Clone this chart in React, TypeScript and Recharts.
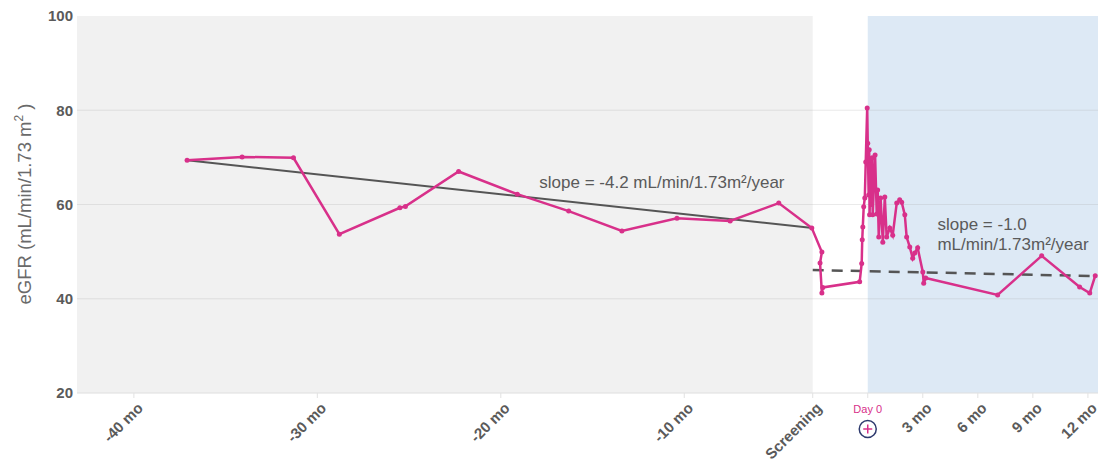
import {
  Line,
  LineChart,
  ReferenceArea,
  ReferenceDot,
  ReferenceLine,
  XAxis,
  YAxis,
} from "recharts";

// x = months relative to Day 0, y = eGFR
const historyMonths = [-37.1, -34.1, -31.3, -28.8, -25.5, -25.2, -22.3, -19.1, -16.3, -13.4, -10.4, -7.5, -4.85, -3.05];
const historyEgfr = [69.4, 70.1, 69.9, 53.7, 59.3, 59.6, 67.0, 62.2, 58.6, 54.4, 57.1, 56.5, 60.3, 55.0];

const screeningMonths = [-2.5, -2.6, -2.5, -2.45, -0.44];
const screeningEgfr = [49.9, 47.6, 41.2, 42.4, 43.6];

const treatmentMonths = [
  -0.33, -0.3, -0.27, -0.22, -0.16, -0.11, -0.03, 0.0, 0.05, 0.08, 0.1, 0.16, 0.2, 0.24, 0.27,
  0.4, 0.49, 0.54, 0.6, 0.7, 0.82, 0.93, 1.03, 1.2, 1.36, 1.58, 1.74, 1.85, 2.02, 2.12, 2.29,
  2.45, 2.56, 2.72, 3.0, 3.05, 3.16, 7.08, 9.48, 11.55, 12.1, 12.4,
];
const treatmentEgfr = [
  47.5, 52.5, 55.2, 59.5, 61.4, 69.0, 80.5, 73.0, 62.0, 71.6, 57.8, 69.4, 60.0, 69.9, 57.8,
  70.5, 58.0, 63.1, 53.1, 61.4, 52.0, 61.6, 53.1, 55.0, 53.5, 60.3, 61.0, 60.5, 57.8, 53.1, 51.0,
  48.6, 49.7, 50.8, 45.7, 43.3, 44.4, 40.8, 49.1, 42.5, 41.2, 44.9,
];

const trendBeforeMonths = [-37.1, -3.0];
const trendBeforeEgfr = [69.4, 55.0];
const trendAfterMonths = [-3.0, 12.5];
const trendAfterEgfr = [46.1, 44.8];

const xTicks = [-40, -30, -20, -10, -3, 0, 3, 6, 9, 12];
const xTickLabels = ["-40 mo", "-30 mo", "-20 mo", "-10 mo", "Screening", "Day 0", "3 mo", "6 mo", "9 mo", "12 mo"];
const yTicks = [20, 40, 60, 80, 100];
const gridValues = [40, 60, 80];

const slopeBeforeText = ["slope = -4.2 mL/min/1.73m²/year"];
const slopeAfterText = ["slope = -1.0", "mL/min/1.73m²/year"];

const toPoints = (months: number[], values: number[]) =>
  months.map((m, i) => ({ month: m, egfr: values[i] }));

const patientData = [
  ...toPoints(historyMonths, historyEgfr),
  ...toPoints(screeningMonths, screeningEgfr),
  ...toPoints(treatmentMonths, treatmentEgfr),
];
const trendBefore = toPoints(trendBeforeMonths, trendBeforeEgfr);
const trendAfter = toPoints(trendAfterMonths, trendAfterEgfr);

const PINK = "#d8308a";
const TEXT = "#5a5a5a";
const FONT = "'Liberation Sans', Arial, sans-serif";

function XTick({ x, y, payload }: any) {
  const i = xTicks.indexOf(payload.value);
  const label = xTickLabels[i];
  if (payload.value === 0) {
    return (
      <g>
        <text x={x} y={y + 15} textAnchor="middle" fill={PINK} fontSize={11} fontFamily={FONT}>
          {label}
        </text>
        <circle cx={x} cy={y + 31} r={8.5} fill="#fff" stroke="#2e3a6e" strokeWidth={1.5} />
        <path d={`M${x - 4.5},${y + 31}H${x + 4.5}M${x},${y + 26.5}V${y + 35.5}`} stroke={PINK} strokeWidth={1.5} />
      </g>
    );
  }
  const ax = x + 10;
  const ay = y + 11;
  return (
    <text
      x={ax}
      y={ay}
      transform={`rotate(-45, ${ax}, ${ay})`}
      textAnchor="end"
      fill={TEXT}
      fontSize={15}
      fontWeight="bold"
      fontFamily={FONT}
    >
      {label}
    </text>
  );
}

function YLabel() {
  return (
    <text
      x={31}
      y={204}
      transform="rotate(-90, 31, 204)"
      textAnchor="middle"
      fill="#6a6a6a"
      fontSize={18.5}
      fontFamily={FONT}
    >
      eGFR (mL/min/1.73 m
      <tspan dy={-8} fontSize={12}>2</tspan>
      <tspan dy={8}> )</tspan>
    </text>
  );
}

function NoteLabel(lines: string[]) {
  return ({ viewBox }: any) => (
    <text x={viewBox.x} y={viewBox.y} fill={TEXT} fontSize={17} fontFamily={FONT}>
      {lines.map((t, i) => (
        <tspan key={i} x={viewBox.x} dy={i === 0 ? 0 : 20}>
          {t}
        </tspan>
      ))}
    </text>
  );
}

export default function App() {
  return (
    <div style={{ position: "absolute", left: 0, top: 0, background: "#fff" }}>
      <LineChart width={1099} height={466} margin={{ top: 16, right: 1, bottom: 0, left: 0 }}>
        <ReferenceArea x1={-43.1} x2={-3} y1={20} y2={100} fill="#f1f1f1" fillOpacity={1} stroke="none" ifOverflow="hidden" />
        <ReferenceArea x1={0} x2={12.55} y1={20} y2={100} fill="#dde9f5" fillOpacity={1} stroke="none" ifOverflow="hidden" />
        {gridValues.map((v) => (
          <ReferenceLine key={v} y={v} stroke="rgba(170,170,170,0.25)" strokeWidth={1} />
        ))}
        <XAxis
          dataKey="month"
          type="number"
          domain={[-43.1, 12.55]}
          allowDataOverflow
          ticks={xTicks}
          interval={0}
          height={73}
          tick={<XTick />}
          tickSize={5}
          tickMargin={0}
          axisLine={{ stroke: "#dedede" }}
          tickLine={{ stroke: "#e2e2e2" }}
        />
        <YAxis
          type="number"
          domain={[20, 100]}
          ticks={yTicks}
          width={77}
          axisLine={false}
          tickLine={false}
          tickSize={4}
          tickMargin={0}
          tick={{ fill: TEXT, fontSize: 15, fontWeight: "bold", fontFamily: FONT }}
          label={{ content: () => <YLabel /> }}
        />
        <Line
          data={trendBefore}
          dataKey="egfr"
          stroke="#555"
          strokeWidth={2}
          dot={false}
          isAnimationActive={false}
        />
        <Line
          data={trendAfter}
          dataKey="egfr"
          stroke="#555"
          strokeWidth={2.5}
          strokeDasharray="11 8"
          dot={false}
          isAnimationActive={false}
        />
        <Line
          data={patientData}
          dataKey="egfr"
          stroke={PINK}
          strokeWidth={2.5}
          dot={{ r: 2.5, fill: PINK, stroke: PINK, strokeWidth: 0 }}
          isAnimationActive={false}
        />
        <ReferenceDot x={-17.9} y={63.5} r={0} stroke="none" fill="none" label={{ content: NoteLabel(slopeBeforeText) }} />
        <ReferenceDot x={3.8} y={54.6} r={0} stroke="none" fill="none" label={{ content: NoteLabel(slopeAfterText) }} />
      </LineChart>
    </div>
  );
}
